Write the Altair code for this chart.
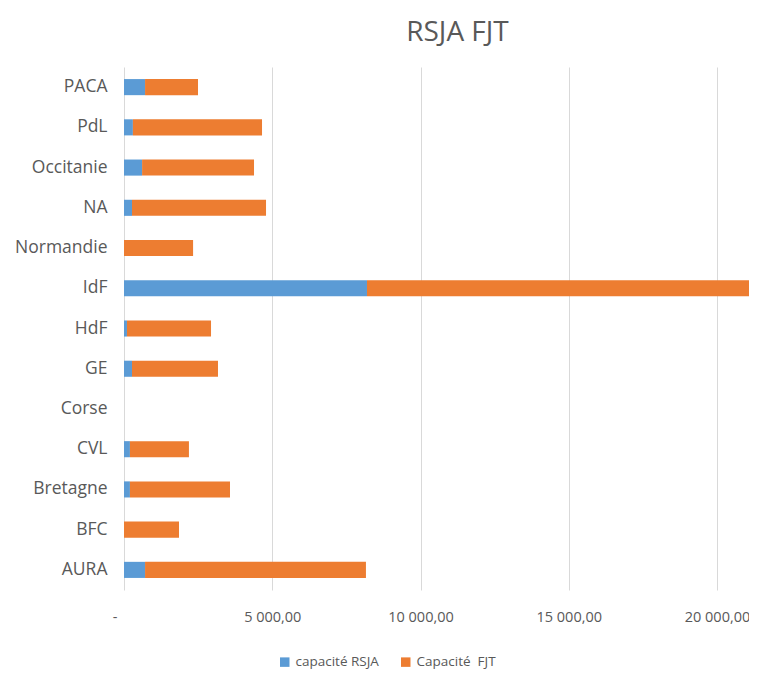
import altair as alt
import pandas as pd

regions = ["PACA", "PdL", "Occitanie", "NA", "Normandie", "IdF", "HdF",
           "GE", "Corse", "CVL", "Bretagne", "BFC", "AURA"]
rsja = [710, 300, 610, 270, 0, 8195, 100, 270, 0, 200, 200, 0, 710]
fjt = [1786, 4355, 3775, 4520, 2330, 14000, 2835, 2900, 0, 1990, 3375, 1855, 7450]

series = ["capacité RSJA", "Capacité\u00a0 FJT"]
colors = ["#5B9BD5", "#ED7D31"]
x_ticks = [0, 5000, 10000, 15000, 20000]

rows = []
for r, a, b in zip(regions, rsja, fjt):
    rows.append({"region": r, "serie": series[0], "value": a, "ord": 0})
    rows.append({"region": r, "serie": series[1], "value": b, "ord": 1})
df = pd.DataFrame(rows)

FONT = "Open Sans"
GREY = "#595959"

chart = alt.Chart(df).mark_bar(clip=True).encode(
    y=alt.Y("region:N", sort=regions, title=None,
            scale=alt.Scale(paddingInner=0.6, paddingOuter=0.3),
            axis=alt.Axis(domain=False, ticks=False, tickSize=0, labelPadding=17,
                          labelFontSize=17.5, labelColor=GREY, labelFont=FONT, grid=False)),
    x=alt.X("value:Q", stack="zero", title=None,
            scale=alt.Scale(domain=[0, 21079], nice=False),
            axis=alt.Axis(values=x_ticks, domain=False, ticks=False, tickSize=0,
                          labelPadding=20, labelFontSize=14.5, labelColor=GREY,
                          labelFont=FONT, gridColor="#d9d9d9", labelFlush=False,
                          labelAlign={"condition": {"test": "datum.value == 0", "value": "right"},
                                      "value": "center"},
                          labelOffset={"condition": {"test": "datum.value == 0", "value": -7},
                                       "value": 0},
                          labelExpr="datum.value == 0 ? '-' : replace(replace(format(datum.value, ',.2f'), ',', ' '), '.', ',')")),
    color=alt.Color("serie:N", scale=alt.Scale(domain=series, range=colors),
                    legend=alt.Legend(title=None, orient="none", direction="horizontal",
                                      legendX=154, legendY=588, symbolType="square",
                                      symbolSize=90, labelFontSize=13.5, labelColor=GREY,
                                      labelFont=FONT, columnPadding=20, symbolStrokeWidth=0)),
    order=alt.Order("ord:Q"),
).properties(
    width=625, height=523,
    title=alt.TitleParams("RSJA FJT", fontSize=28, color=GREY, font=FONT,
                          fontWeight="normal", anchor="middle", dx=21, offset=20),
    autosize=alt.AutoSizeParams(type="none"),
    padding={"left": 116, "top": 59, "right": 0, "bottom": 80},
).configure_view(stroke=None)

chart.save("out.html", embed_options={"renderer": "svg", "actions": False})
